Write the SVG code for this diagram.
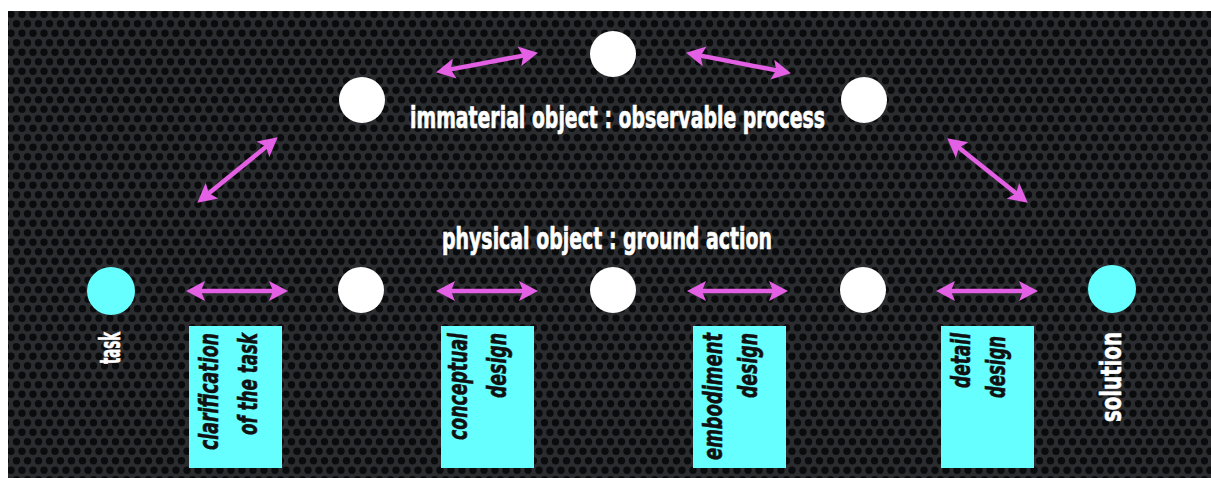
<svg xmlns="http://www.w3.org/2000/svg" width="1211" height="478" viewBox="0 0 1211 478">
  <style>
    .white-node { fill: #ffffff; }
    .cyan-node { fill: #66ffff; }
    .box { fill: #66ffff; }
    .arrow { stroke: #e35fe3; stroke-width: 4.5; fill: none; marker-start: url(#head); marker-end: url(#head); }
    .label { font-family: "Liberation Sans Narrow", "DejaVu Sans Condensed", "Liberation Sans", sans-serif; font-weight: bold; fill: #ffffff; stroke: #ffffff; stroke-width: 0.7; font-size: 31px; }
    .boxtext { font-family: "Liberation Sans Narrow", "DejaVu Sans Condensed", "Liberation Sans", sans-serif; font-weight: bold; font-style: italic; fill: #111111; stroke: #111111; stroke-width: 0.6; font-size: 27px; }
    .sidetext { font-family: "Liberation Sans Narrow", "DejaVu Sans Condensed", "Liberation Sans", sans-serif; font-weight: bold; fill: #ffffff; stroke: #ffffff; stroke-width: 0.6; font-size: 28px; }
  </style>
  <defs>
    <pattern id="mesh" width="11" height="19" patternUnits="userSpaceOnUse">
      <rect width="11" height="19" fill="#2a2c2f"/>
      <circle cx="5.5" cy="4.75" r="3.7" fill="#0a0b0c"/>
      <circle cx="0" cy="14.25" r="3.7" fill="#0a0b0c"/>
      <circle cx="11" cy="14.25" r="3.7" fill="#0a0b0c"/>
    </pattern>
    <marker id="head" markerUnits="userSpaceOnUse" markerWidth="22" markerHeight="22" viewBox="0 -11 22 22" refX="8" refY="0" orient="auto-start-reverse">
      <path d="M0,-10 L19,0 L0,10 L4,0 Z" fill="#e35fe3"/>
    </marker>
  </defs>

  <rect x="0" y="0" width="1211" height="478" fill="#ffffff"/>
  <rect x="8" y="11" width="1203" height="467" fill="url(#mesh)"/>

  <g id="connectors">
    <line class="arrow" x1="197" y1="291" x2="277" y2="291"/>
    <line class="arrow" x1="447" y1="291" x2="527" y2="291"/>
    <line class="arrow" x1="698" y1="291" x2="777" y2="291"/>
    <line class="arrow" x1="947" y1="291" x2="1027" y2="291"/>
    <line class="arrow" x1="205.8" y1="195.7" x2="269.2" y2="144.3"/>
    <line class="arrow" x1="446.8" y1="70.1" x2="527.2" y2="54.9"/>
    <line class="arrow" x1="696.8" y1="54.9" x2="780.2" y2="71.1"/>
    <line class="arrow" x1="955.8" y1="145.2" x2="1019.2" y2="195.8"/>
  </g>

  <g id="label-immaterial">
    <text class="label" x="410" y="128" textLength="415" lengthAdjust="spacingAndGlyphs">immaterial object : observable process</text>
  </g>
  <g id="label-physical">
    <text class="label" x="442" y="249" textLength="330" lengthAdjust="spacingAndGlyphs">physical object : ground action</text>
  </g>

  <g id="node-top-left"><circle class="white-node" cx="362" cy="100" r="23"/></g>
  <g id="node-top-center"><circle class="white-node" cx="613" cy="54" r="23"/></g>
  <g id="node-top-right"><circle class="white-node" cx="864" cy="100" r="23"/></g>

  <g id="node-task">
    <circle class="cyan-node" cx="111" cy="291" r="24"/>
    <text class="sidetext" transform="translate(120,364) rotate(-90)" x="0" y="0" textLength="32" lengthAdjust="spacingAndGlyphs">task</text>
  </g>
  <g id="node-bottom-1"><circle class="white-node" cx="361" cy="290" r="23"/></g>
  <g id="node-bottom-2"><circle class="white-node" cx="613" cy="290" r="23"/></g>
  <g id="node-bottom-3"><circle class="white-node" cx="863" cy="290" r="23"/></g>
  <g id="node-solution">
    <circle class="cyan-node" cx="1112" cy="289" r="24"/>
    <text class="sidetext" transform="translate(1121,422) rotate(-90)" x="0" y="0" textLength="90" lengthAdjust="spacingAndGlyphs">solution</text>
  </g>

  <g id="box-clarification">
    <rect class="box" x="189" y="326" width="93" height="142"/>
    <text class="boxtext" transform="translate(218,450) rotate(-90)" textLength="117" lengthAdjust="spacingAndGlyphs">clarification</text>
    <text class="boxtext" transform="translate(257,435) rotate(-90)" textLength="102" lengthAdjust="spacingAndGlyphs">of the task</text>
  </g>
  <g id="box-conceptual">
    <rect class="box" x="441" y="326" width="93" height="142"/>
    <text class="boxtext" transform="translate(467,440) rotate(-90)" textLength="107" lengthAdjust="spacingAndGlyphs">conceptual</text>
    <text class="boxtext" transform="translate(506,398) rotate(-90)" textLength="65" lengthAdjust="spacingAndGlyphs">design</text>
  </g>
  <g id="box-embodiment">
    <rect class="box" x="693" y="326" width="93" height="142"/>
    <text class="boxtext" transform="translate(722,460) rotate(-90)" textLength="127" lengthAdjust="spacingAndGlyphs">embodiment</text>
    <text class="boxtext" transform="translate(757,398) rotate(-90)" textLength="65" lengthAdjust="spacingAndGlyphs">design</text>
  </g>
  <g id="box-detail">
    <rect class="box" x="941" y="326" width="93" height="142"/>
    <text class="boxtext" transform="translate(970,388) rotate(-90)" textLength="55" lengthAdjust="spacingAndGlyphs">detail</text>
    <text class="boxtext" transform="translate(1005,398) rotate(-90)" textLength="62" lengthAdjust="spacingAndGlyphs">design</text>
  </g>
</svg>
